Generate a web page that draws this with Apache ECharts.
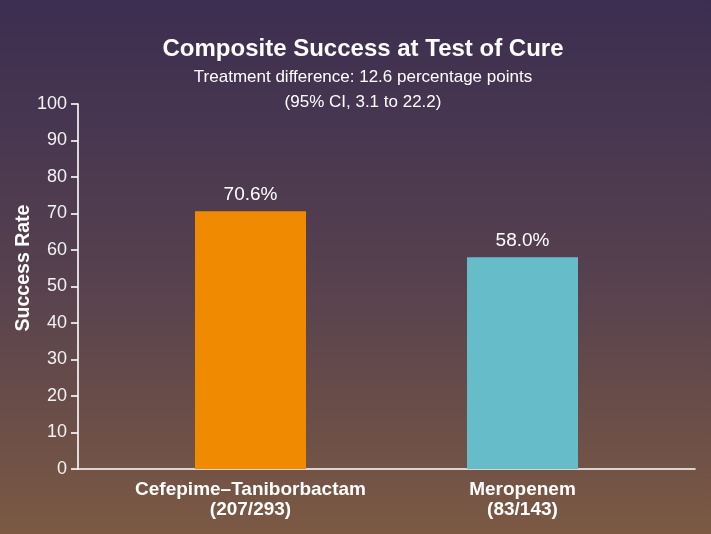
<!DOCTYPE html>
<html>
<head>
<meta charset="utf-8">
<script src="https://cdn.jsdelivr.net/npm/echarts@6/dist/echarts.min.js"></script>
<style>
html,body{margin:0;padding:0;}
#chart{width:711px;height:534px;}
</style>
</head>
<body>
<div id="chart"></div>
<script>
var categories = ['Cefepime\u2013Taniborbactam\n(207/293)', 'Meropenem\n(83/143)'];
var successRates = [70.6, 58.0];
var barColors = ['#f08a00', '#66bdc9'];
var yTicks = [0, 10, 20, 30, 40, 50, 60, 70, 80, 90, 100];
var titleText = 'Composite Success at Test of Cure';
var subtitleText = 'Treatment difference: 12.6 percentage points\n(95% CI, 3.1 to 22.2)';
var yAxisTitle = 'Success Rate';

var font = 'Liberation Sans, Arial, Helvetica, sans-serif';
var chart = echarts.init(document.getElementById('chart'));
chart.setOption({
  backgroundColor: {
    type: 'linear', x: 0, y: 0, x2: 0, y2: 1,
    colorStops: [
      {offset: 0, color: '#3c2e51'},
      {offset: 0.5, color: '#55404f'},
      {offset: 1, color: '#7b5943'}
    ]
  },
  title: {
    text: titleText,
    subtext: subtitleText,
    left: 358,
    textAlign: 'center',
    top: 32,
    itemGap: 4,
    textStyle: {color: '#ffffff', fontFamily: font, fontWeight: 'bold', fontSize: 24},
    subtextStyle: {color: '#ffffff', fontFamily: font, fontSize: 17, lineHeight: 25}
  },
  graphic: [{
    type: 'text',
    x: 24, y: 268,
    rotation: Math.PI / 2,
    style: {
      text: yAxisTitle, fill: '#ffffff',
      font: 'bold 19.5px ' + font,
      textAlign: 'center', textVerticalAlign: 'middle'
    }
  }],
  grid: [
    {left: 78, right: 16, top: 104, bottom: 65},
    {left: 114.5, right: 52.5, top: 104, bottom: 65}
  ],
  xAxis: [
    {
      gridIndex: 0, type: 'category', data: ['', ''],
      axisLine: {show: true, lineStyle: {color: '#ffffff', width: 1.6}},
      axisTick: {show: false}, axisLabel: {show: false}
    },
    {
      gridIndex: 1, type: 'category', data: categories,
      axisLine: {show: false}, axisTick: {show: false},
      axisLabel: {interval: 0, hideOverlap: false, color: '#ffffff', fontFamily: font, fontWeight: 'bold', fontSize: 19, lineHeight: 20, margin: 11}
    }
  ],
  yAxis: [
    {
      gridIndex: 0, type: 'value', min: 0, max: 100, interval: 10,
      axisLine: {show: true, lineStyle: {color: '#ffffff', width: 1.6}},
      axisTick: {show: true, length: 7, lineStyle: {color: '#ffffff', width: 1.6}},
      axisLabel: {color: '#f2f2f2', fontFamily: font, fontSize: 18, margin: 11,
        formatter: function (v) { return yTicks.indexOf(v) >= 0 ? String(v) : ''; }},
      splitLine: {show: false}
    },
    {
      gridIndex: 1, type: 'value', min: 0, max: 100, show: false, splitLine: {show: false}
    }
  ],
  series: [{
    type: 'bar',
    xAxisIndex: 1, yAxisIndex: 1,
    barWidth: 111,
    data: successRates.map(function (v, i) {
      return {value: v, itemStyle: {color: barColors[i]}};
    }),
    label: {
      show: true, position: 'top', distance: 7,
      color: '#ffffff', fontFamily: font, fontSize: 19,
      formatter: function (p) { return p.value.toFixed(1) + '%'; }
    }
  }]
});
</script>
</body>
</html>
